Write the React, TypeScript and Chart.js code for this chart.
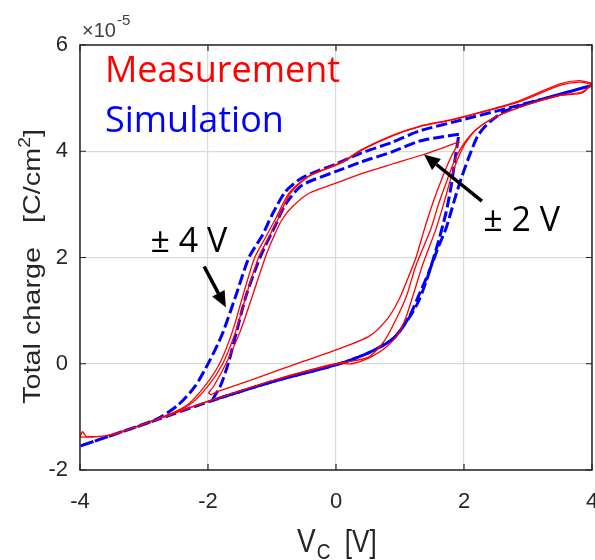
import React, { useEffect, useRef } from "react";
import { Chart, registerables } from "chart.js";

Chart.register(...registerables);

// Gate voltage V_C [V] and total charge [x1e-5 C/cm^2] along each sweep branch.

// Simulation, ±4 V sweep
const simFourDownV = [4.0, 3.4, 2.65, 2.0, 1.3, 0.88, 0.4, 0.0, -0.53, -0.79, -1.0, -1.15, -1.36, -1.56, -1.78, -1.99, -2.2, -2.47, -2.8, -3.3, -4.0];
const simFourDownQ = [5.24, 5.04, 4.8, 4.6, 4.38, 4.17, 3.97, 3.76, 3.5, 3.24, 2.8, 2.42, 2.0, 1.3, 0.55, 0.02, -0.42, -0.78, -1.04, -1.26, -1.55];
const simFourUpV = [-4.0, -3.0, -2.0, -1.0, 0.0, 0.5, 0.9, 1.15, 1.28, 1.45, 1.6, 1.72, 1.85, 1.96, 2.08, 2.22, 2.4, 2.65, 3.0, 3.4, 4.0];
const simFourUpQ = [-1.55, -1.14, -0.72, -0.34, -0.02, 0.2, 0.48, 0.9, 1.25, 1.72, 2.2, 2.55, 3.08, 3.5, 3.9, 4.3, 4.55, 4.76, 4.9, 5.04, 5.24];

// Simulation, ±2 V sweep
const simTwoDownV = [1.92, 1.6, 1.3, 0.88, 0.4, 0.0, -0.53, -0.79, -0.95, -1.18, -1.4, -1.55, -1.68, -1.8, -1.92];
const simTwoDownQ = [4.32, 4.26, 4.19, 3.99, 3.8, 3.62, 3.36, 3.0, 2.6, 2.02, 1.3, 0.62, 0.02, -0.4, -0.66];
const simTwoUpV = [-1.92, -1.0, 0.0, 0.5, 0.9, 1.15, 1.3, 1.45, 1.6, 1.72, 1.8, 1.86, 1.92];
const simTwoUpQ = [-0.68, -0.34, -0.02, 0.2, 0.48, 0.88, 1.2, 1.7, 2.3, 2.85, 3.35, 3.85, 4.32];

// Measurement, ±4 V sweep, first cycle
const measFourDownV = [4.0, 3.8, 3.5, 2.86, 2.3, 1.82, 1.3, 0.88, 0.4, 0.1, -0.42, -0.73, -0.94, -1.1, -1.27, -1.45, -1.62, -1.82, -2.05, -2.33, -2.8, -3.5, -3.8, -4.0];
const measFourDownQ = [5.28, 5.33, 5.27, 4.95, 4.75, 4.6, 4.47, 4.3, 4.03, 3.8, 3.54, 3.22, 2.74, 2.38, 2.0, 1.3, 0.6, 0.0, -0.42, -0.78, -1.05, -1.33, -1.38, -1.38];
const measFourUpV = [-4.0, -3.96, -3.9, -3.5, -3.0, -2.0, -1.0, 0.0, 0.25, 0.5, 0.8, 1.0, 1.1, 1.2, 1.35, 1.56, 1.68, 1.79, 1.9, 2.02, 2.2, 2.5, 3.0, 3.5, 3.85, 4.0];
const measFourUpQ = [-1.38, -1.28, -1.37, -1.34, -1.13, -0.71, -0.32, 0.0, 0.0, 0.1, 0.33, 0.62, 0.9, 1.27, 1.85, 2.53, 3.0, 3.47, 3.85, 4.15, 4.42, 4.65, 4.88, 5.05, 5.12, 5.28];

// Measurement, ±4 V sweep, second cycle
const measFourBDownV = [4.0, 3.8, 3.5, 2.86, 2.3, 1.82, 1.3, 0.88, 0.4, 0.1, -0.42, -0.72, -0.9, -1.05, -1.21, -1.4, -1.57, -1.77, -2.0, -2.3, -2.8];
const measFourBDownQ = [5.26, 5.3, 5.24, 4.93, 4.74, 4.59, 4.46, 4.29, 4.02, 3.79, 3.53, 3.2, 2.74, 2.38, 2.0, 1.3, 0.6, 0.0, -0.42, -0.78, -1.05];
const measFourBUpV = [-2.8, -2.0, -1.0, 0.0, 0.5, 0.75, 0.96, 1.1, 1.25, 1.48, 1.6, 1.74, 1.86, 2.0, 2.2, 2.5, 3.0, 3.5, 3.85, 4.0];
const measFourBUpQ = [-1.05, -0.71, -0.32, 0.0, 0.12, 0.42, 0.89, 1.27, 1.85, 2.53, 3.0, 3.47, 3.85, 4.15, 4.42, 4.65, 4.88, 5.05, 5.1, 5.26];

// Measurement, ±2 V sweep
const measTwoDownV = [1.93, 1.75, 1.32, 0.88, 0.4, 0.0, -0.42, -0.68, -0.84, -0.97, -1.1, -1.3, -1.5, -1.72, -1.9, -1.99];
const measTwoDownQ = [4.18, 4.1, 3.92, 3.76, 3.58, 3.4, 3.21, 2.96, 2.72, 2.4, 2.02, 1.3, 0.6, 0.0, -0.4, -0.55];
const measTwoUpV = [-1.99, -1.95, -1.85, -1.5, -0.92, -0.5, 0.0, 0.52, 0.8, 0.98, 1.12, 1.25, 1.38, 1.52, 1.66, 1.8, 1.93];
const measTwoUpQ = [-0.55, -0.58, -0.52, -0.38, -0.13, 0.05, 0.26, 0.52, 0.84, 1.2, 1.6, 2.0, 2.53, 3.05, 3.5, 3.9, 4.18];

// Axis ticks
const xTicks = [-4, -2, 0, 2, 4];
const yTicks = [-2, 0, 2, 4, 6];

const RED = "#ff0000";
const BLUE = "#0000ff";
const AXIS = "#262626";

const pts = (v: number[], q: number[]) => v.map((x, i) => ({ x, y: q[i] }));
const loop = (dv: number[], dq: number[], uv: number[], uq: number[]) => [...pts(dv, dq), ...pts(uv, uq)];

const measStyle = { borderColor: RED, borderWidth: 1.3, pointRadius: 0, tension: 0.25, fill: false };
const simStyle = { borderColor: BLUE, borderWidth: 3, borderDash: [11, 4], pointRadius: 0, tension: 0.25, fill: false };

const datasets: any[] = [
  { label: "Measurement ±4 V", data: loop(measFourDownV, measFourDownQ, measFourUpV, measFourUpQ), ...measStyle },
  { label: "Measurement ±4 V (2)", data: loop(measFourBDownV, measFourBDownQ, measFourBUpV, measFourBUpQ), ...measStyle },
  { label: "Measurement ±2 V", data: loop(measTwoDownV, measTwoDownQ, measTwoUpV, measTwoUpQ), ...measStyle },
  { label: "Simulation ±4 V", data: loop(simFourDownV, simFourDownQ, simFourUpV, simFourUpQ), ...simStyle },
  { label: "Simulation ±2 V", data: loop(simTwoDownV, simTwoDownQ, simTwoUpV, simTwoUpQ), ...simStyle },
];

function arrow(ctx: CanvasRenderingContext2D, x0: number, y0: number, x1: number, y1: number) {
  const ang = Math.atan2(y1 - y0, x1 - x0);
  const headLen = 16;
  const headHalf = 7;
  const bx = x1 - headLen * Math.cos(ang);
  const by = y1 - headLen * Math.sin(ang);
  ctx.strokeStyle = "#000";
  ctx.fillStyle = "#000";
  ctx.lineWidth = 3.5;
  ctx.beginPath();
  ctx.moveTo(x0, y0);
  ctx.lineTo(bx, by);
  ctx.stroke();
  ctx.beginPath();
  ctx.moveTo(x1, y1);
  ctx.lineTo(bx + headHalf * Math.sin(ang), by - headHalf * Math.cos(ang));
  ctx.lineTo(bx - headHalf * Math.sin(ang), by + headHalf * Math.cos(ang));
  ctx.closePath();
  ctx.fill();
}

const overlay = {
  id: "overlay",
  afterDatasetsDraw(chart: any) {
    const { ctx, chartArea: a, scales } = chart;
    const sx = scales.x;
    const sy = scales.y;
    const X = (v: number) => sx.getPixelForValue(v);
    const Y = (v: number) => sy.getPixelForValue(v);
    ctx.save();

    // axes box and inward ticks
    ctx.strokeStyle = AXIS;
    ctx.lineWidth = 1.5;
    ctx.strokeRect(a.left, a.top, a.right - a.left, a.bottom - a.top);
    ctx.lineWidth = 1.2;
    ctx.beginPath();
    for (const v of xTicks) {
      const px = X(v);
      ctx.moveTo(px, a.bottom);
      ctx.lineTo(px, a.bottom - 6);
      ctx.moveTo(px, a.top);
      ctx.lineTo(px, a.top + 6);
    }
    for (const v of yTicks) {
      const py = Y(v);
      ctx.moveTo(a.left, py);
      ctx.lineTo(a.left + 6, py);
      ctx.moveTo(a.right, py);
      ctx.lineTo(a.right - 6, py);
    }
    ctx.stroke();

    // legend text
    ctx.textAlign = "left";
    ctx.textBaseline = "alphabetic";
    ctx.font = "36px 'Open Sans'";
    ctx.fillStyle = RED;
    ctx.fillText("Measurement", X(-3.61), Y(5.3));
    ctx.fillStyle = BLUE;
    ctx.fillText("Simulation", X(-3.61), Y(4.36));

    // sweep annotations
    ctx.fillStyle = "#000";
    ctx.font = "34px 'Open Sans'";
    ctx.fillText("± 4 V", X(-2.9), Y(2.11));
    ctx.fillText("± 2 V", X(2.3), Y(2.49));
    arrow(ctx, X(-2.06), Y(1.83), X(-1.72), Y(1.06));
    arrow(ctx, X(2.28), Y(3.06), X(1.375), Y(3.94));

    // exponent label
    ctx.fillStyle = "#404040";
    ctx.font = "20px 'Liberation Sans'";
    const base = "×10";
    ctx.fillText(base, a.left + 2, a.top - 8);
    const bw = ctx.measureText(base).width;
    ctx.font = "15px 'Liberation Sans'";
    ctx.fillText("-5", a.left + 2 + bw + 1, a.top - 20);

    // y axis title
    ctx.fillStyle = AXIS;
    ctx.save();
    ctx.translate(40, (a.top + a.bottom) / 2 + 9);
    ctx.rotate(-Math.PI / 2);
    ctx.scale(1.2, 1);
    ctx.font = "24px 'Liberation Sans'";
    const p1 = "Total charge   [C/cm";
    const w1 = ctx.measureText(p1).width;
    ctx.font = "16px 'Liberation Sans'";
    const ws = ctx.measureText("2").width;
    ctx.font = "24px 'Liberation Sans'";
    const w2 = ctx.measureText("]").width;
    let cx = -(w1 + ws + w2) / 2;
    ctx.fillText(p1, cx, 0);
    cx += w1;
    ctx.font = "16px 'Liberation Sans'";
    ctx.fillText("2", cx, -10);
    cx += ws;
    ctx.font = "24px 'Liberation Sans'";
    ctx.fillText("]", cx, 0);
    ctx.restore();

    // x axis title
    ctx.save();
    ctx.translate(297, 552);
    ctx.scale(1, 1.2);
    ctx.font = "28px 'Liberation Sans'";
    ctx.fillText("V", 0, 0);
    let tx = ctx.measureText("V").width + 1;
    ctx.font = "19px 'Liberation Sans'";
    ctx.fillText("C", tx, 6);
    tx += ctx.measureText("C").width;
    ctx.font = "26px 'Liberation Sans'";
    ctx.fillText("  [V]", tx, 0);
    ctx.restore();

    ctx.restore();
  },
};

export default function App() {
  const ref = useRef<HTMLCanvasElement>(null);
  useEffect(() => {
    const tickFont = { family: "'Liberation Sans'", size: 22 };
    const chart = new Chart(ref.current as HTMLCanvasElement, {
      type: "line",
      data: { datasets },
      options: {
        responsive: false,
        animation: false,
        devicePixelRatio: 1,
        layout: { padding: { top: 45, right: 3, left: 0, bottom: 0 } },
        plugins: { legend: { display: false }, tooltip: { enabled: false } },
        scales: {
          x: {
            type: "linear",
            min: -4,
            max: 4,
            afterBuildTicks: (s: any) => { s.ticks = xTicks.map((value) => ({ value })); },
            ticks: { color: AXIS, font: tickFont, padding: 19, maxRotation: 0 },
            grid: { color: "#d9d9d9", lineWidth: 1.2, drawTicks: false },
            border: { display: false },
            afterFit: (s: any) => { s.height = 90; s.paddingLeft = 0; s.paddingRight = 0; },
          },
          y: {
            type: "linear",
            min: -2,
            max: 6,
            afterBuildTicks: (s: any) => { s.ticks = yTicks.map((value) => ({ value })); },
            ticks: { color: AXIS, font: tickFont, padding: 12 },
            grid: { color: "#d9d9d9", lineWidth: 1.2, drawTicks: false },
            border: { display: false },
            afterFit: (s: any) => { s.width = 80; s.paddingTop = 0; s.paddingBottom = 0; },
          },
        },
      } as any,
      plugins: [overlay],
    });
    return () => chart.destroy();
  }, []);
  return (
    <div style={{ position: "fixed", left: 0, top: 0, width: 595, height: 560, background: "#fff" }}>
      <canvas ref={ref} width={595} height={560} style={{ display: "block" }} />
    </div>
  );
}
